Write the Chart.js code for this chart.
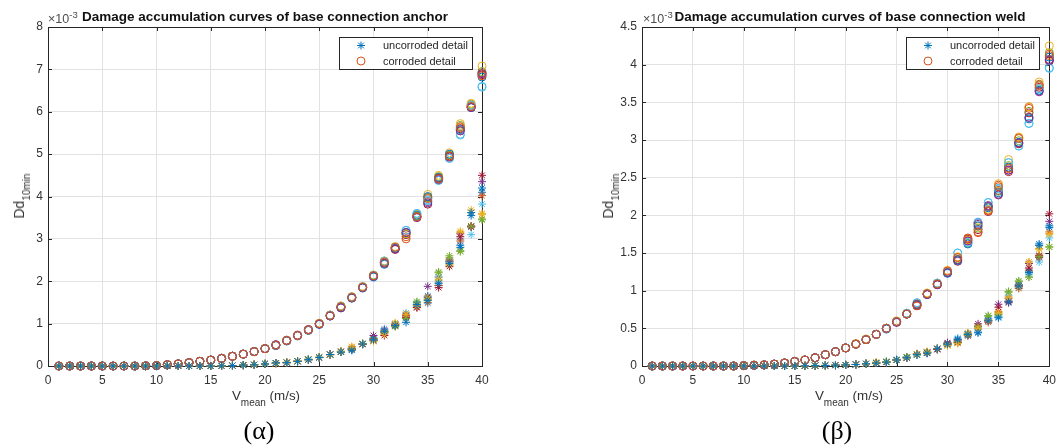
<!DOCTYPE html>
<html>
<head>
<meta charset="utf-8">
<script src="https://cdn.jsdelivr.net/npm/chart.js@4.4.0/dist/chart.umd.min.js"></script>
<style>
html, body { margin: 0; padding: 0; background: #fff; }
body { width: 1063px; height: 447px; position: relative; overflow: hidden; font-family: 'Liberation Sans', Arial, sans-serif; color: #262626; }
canvas { position: absolute; top: 0; }
.abs { position: absolute; white-space: nowrap; line-height: 1; }
.title { font-weight: bold; font-size: 13.5px; top: 10px; transform: translateX(-50%); color: #111; }
.exp { font-size: 12.5px; top: 13px; color: #4d4d4d; }
.exp span { font-size: 9.5px; position: relative; top: -5px; }
.xlab { font-size: 13.4px; top: 389px; transform: translateX(-50%); color: #333; }
.ylab { font-size: 14px; top: 196px; transform: translate(-50%, -50%) rotate(-90deg); color: #333; }
.sub { font-size: 10px; position: relative; top: 6px; }
.cap { font-family: 'Liberation Serif', 'Times New Roman', serif; font-size: 26px; top: 418px; transform: translateX(-50%); color: #000; }
</style>
</head>
<body>
<canvas id="chartAnchor" width="530" height="395" style="left:0px"></canvas>
<canvas id="chartWeld" width="523" height="395" style="left:540px"></canvas>

<div class="abs title" style="left:265px">Damage accumulation curves of base connection anchor</div>
<div class="abs title" style="left:850px">Damage accumulation curves of base connection weld</div>
<div class="abs exp" style="left:48px">×10<span>-3</span></div>
<div class="abs exp" style="left:643px">×10<span>-3</span></div>
<div class="abs xlab" style="left:266px">V<span class="sub">mean</span> (m/s)</div>
<div class="abs xlab" style="left:849px">V<span class="sub">mean</span> (m/s)</div>
<div class="abs ylab" style="left:19px">Dd<span class="sub">10min</span></div>
<div class="abs ylab" style="left:608px">Dd<span class="sub">10min</span></div>
<div class="abs cap" style="left:259px">(α)</div>
<div class="abs cap" style="left:837px">(β)</div>

<script>
// wind speed classes (m/s)
const vMean = [1,2,3,4,5,6,7,8,9,10,11,12,13,14,15,16,17,18,19,20,21,22,23,24,25,26,27,28,29,30,31,32,33,34,35,36,37,38,39,40];

const xTickLabels = ['0','5','10','15','20','25','30','35','40'];
const anchorTickLabels = ['0','1','2','3','4','5','6','7','8'];
const weldTickLabels = ['0','0.5','1','1.5','2','2.5','3','3.5','4','4.5'];

const matlabColors = ['#0072BD','#D95319','#EDB120','#7E2F8E','#77AC30','#4DBEEE','#A2142F'];

// damage values, in units of 1e-3
// anchor - uncorroded
const anchorUncorroded1 = [0,0,0,0,0,0,0,0,0,0,0,0,0,0,0,0.005,0.01,0.02,0.03,0.05,0.07,0.08,0.11,0.15,0.2,0.27,0.33,0.37,0.52,0.62,0.82,0.96,1.03,1.45,1.55,1.95,2.42,2.85,3.62,4.2];
const anchorUncorroded2 = [0,0,0,0,0,0,0,0,0,0,0,0,0,0,0,0.005,0.01,0.02,0.03,0.05,0.06,0.09,0.12,0.15,0.2,0.26,0.34,0.45,0.52,0.58,0.75,1.02,1.22,1.42,1.6,2.05,2.4,3.18,3.68,3.58];
const anchorUncorroded3 = [0,0,0,0,0,0,0,0,0,0,0,0,0,0,0,0.005,0.01,0.02,0.03,0.05,0.07,0.08,0.11,0.16,0.21,0.27,0.33,0.4,0.53,0.63,0.8,0.93,1.12,1.5,1.58,2.2,2.55,2.7,3.3,3.45];
const anchorUncorroded4 = [0,0,0,0,0,0,0,0,0,0,0,0,0,0,0,0.005,0.01,0.02,0.03,0.05,0.07,0.08,0.11,0.15,0.2,0.27,0.34,0.4,0.51,0.64,0.72,0.95,1.15,1.38,1.62,1.85,2.35,3.05,3.3,4.5];
const anchorUncorroded5 = [0,0,0,0,0,0,0,0,0,0,0,0,0,0,0,0.005,0.01,0.02,0.03,0.05,0.06,0.08,0.11,0.15,0.2,0.27,0.33,0.42,0.52,0.61,0.78,0.98,1.2,1.38,1.5,1.9,2.5,2.95,3.3,4.02];
const anchorUncorroded6 = [0,0,0,0,0,0,0,0,0,0,0,0,0,0,0,0.005,0.01,0.02,0.03,0.05,0.07,0.08,0.11,0.15,0.2,0.27,0.33,0.39,0.52,0.72,0.85,0.97,1.18,1.44,1.88,1.9,2.47,3.12,3.28,4.35];
const anchorUncorroded7 = [0,0,0,0,0,0,0,0,0,0,0,0,0,0,0,0.005,0.01,0.02,0.03,0.05,0.07,0.08,0.11,0.15,0.2,0.27,0.34,0.38,0.51,0.67,0.88,0.99,1.25,1.48,1.48,1.98,2.5,3.0,3.1,3.82];
const anchorUncorroded8 = [0,0,0,0,0,0,0,0,0,0,0,0,0,0,0,0.005,0.01,0.02,0.03,0.05,0.07,0.08,0.11,0.15,0.2,0.27,0.33,0.4,0.52,0.6,0.8,0.98,1.2,1.4,1.65,2.1,2.45,2.8,3.55,4.1];
const anchorUncorroded9 = [0,0,0,0,0,0,0,0,0,0,0,0,0,0,0,0.005,0.01,0.02,0.03,0.05,0.06,0.09,0.12,0.15,0.21,0.27,0.35,0.46,0.52,0.6,0.78,1.0,1.22,1.43,1.55,2.02,2.38,3.15,3.62,3.6];
const anchorUncorroded10 = [0,0,0,0,0,0,0,0,0,0,0,0,0,0,0,0.005,0.01,0.02,0.03,0.05,0.07,0.08,0.11,0.16,0.2,0.27,0.34,0.4,0.53,0.65,0.82,0.94,1.14,1.52,1.55,2.22,2.6,2.72,3.28,3.47];
// anchor - corroded
const anchorCorroded1 = [0,0,0,0,0,0,0,0,0.005,0.01,0.03,0.05,0.08,0.11,0.14,0.18,0.23,0.28,0.34,0.41,0.49,0.6,0.72,0.85,1.0,1.19,1.4,1.62,1.86,2.13,2.45,2.8,3.0,3.52,3.95,4.42,4.95,5.62,6.12,6.85];
const anchorCorroded2 = [0,0,0,0,0,0,0,0,0.005,0.01,0.03,0.05,0.08,0.11,0.14,0.18,0.23,0.28,0.34,0.41,0.5,0.6,0.72,0.86,0.99,1.18,1.37,1.61,1.85,2.12,2.42,2.76,3.15,3.5,3.85,4.4,4.93,5.55,6.1,6.9];
const anchorCorroded3 = [0,0,0,0,0,0,0,0,0.005,0.01,0.03,0.05,0.08,0.11,0.14,0.18,0.23,0.28,0.34,0.41,0.49,0.6,0.72,0.85,1.0,1.2,1.41,1.63,1.87,2.14,2.47,2.8,3.2,3.6,3.9,4.38,4.9,5.45,6.15,6.58];
const anchorCorroded4 = [0,0,0,0,0,0,0,0,0.005,0.01,0.03,0.05,0.08,0.11,0.14,0.18,0.23,0.28,0.34,0.41,0.48,0.59,0.71,0.84,0.98,1.18,1.38,1.6,1.84,2.1,2.4,2.78,3.15,3.56,4.0,4.45,5.0,5.58,6.1,6.82];
const anchorCorroded5 = [0,0,0,0,0,0,0,0,0.005,0.01,0.03,0.05,0.08,0.11,0.14,0.18,0.23,0.28,0.34,0.41,0.49,0.6,0.72,0.86,1.01,1.2,1.42,1.64,1.88,2.15,2.48,2.82,3.13,3.58,4.05,4.5,5.03,5.72,6.2,7.08];
const anchorCorroded6 = [0,0,0,0,0,0,0,0,0.005,0.01,0.03,0.05,0.08,0.11,0.14,0.18,0.23,0.28,0.34,0.41,0.49,0.6,0.72,0.85,1.0,1.19,1.39,1.62,1.86,2.12,2.44,2.79,3.12,3.54,3.97,4.47,4.98,5.68,6.18,6.95];
const anchorCorroded7 = [0,0,0,0,0,0,0,0,0.005,0.01,0.03,0.05,0.08,0.11,0.14,0.18,0.23,0.28,0.34,0.41,0.5,0.61,0.73,0.85,1.0,1.2,1.4,1.62,1.86,2.13,2.44,2.75,3.1,3.52,3.82,4.43,4.96,5.6,6.12,6.87];
const anchorCorroded8 = [0,0,0,0,0,0,0,0,0.005,0.01,0.03,0.05,0.08,0.11,0.14,0.18,0.23,0.28,0.34,0.41,0.49,0.6,0.72,0.85,1.0,1.19,1.4,1.62,1.86,2.13,2.45,2.8,3.05,3.53,3.98,4.44,4.96,5.65,6.15,6.9];
const anchorCorroded9 = [0,0,0,0,0,0,0,0,0.005,0.01,0.03,0.05,0.08,0.11,0.14,0.18,0.23,0.28,0.34,0.41,0.5,0.6,0.72,0.86,0.99,1.18,1.38,1.61,1.85,2.12,2.43,2.77,3.15,3.52,3.88,4.42,4.94,5.55,6.1,6.92];
const anchorCorroded10 = [0,0,0,0,0,0,0,0,0.005,0.01,0.03,0.05,0.08,0.11,0.14,0.18,0.23,0.28,0.34,0.41,0.49,0.6,0.72,0.85,1.0,1.2,1.41,1.63,1.87,2.14,2.48,2.8,3.2,3.6,3.92,4.38,4.9,5.47,6.15,6.6];
// weld - uncorroded
const weldUncorroded1 = [0,0,0,0,0,0,0,0,0,0,0,0,0,0,0,0.003,0.005,0.007,0.01,0.015,0.02,0.03,0.04,0.05,0.08,0.11,0.15,0.17,0.23,0.29,0.35,0.42,0.44,0.6,0.64,0.85,1.06,1.24,1.6,1.84];
const weldUncorroded2 = [0,0,0,0,0,0,0,0,0,0,0,0,0,0,0,0.003,0.005,0.007,0.01,0.015,0.02,0.03,0.05,0.05,0.08,0.11,0.16,0.19,0.23,0.27,0.3,0.44,0.5,0.6,0.7,0.9,1.05,1.38,1.55,1.75];
const weldUncorroded3 = [0,0,0,0,0,0,0,0,0,0,0,0,0,0,0,0.003,0.005,0.007,0.01,0.015,0.02,0.03,0.04,0.06,0.08,0.12,0.15,0.18,0.23,0.29,0.32,0.41,0.52,0.66,0.68,0.98,1.12,1.18,1.45,1.58];
const weldUncorroded4 = [0,0,0,0,0,0,0,0,0,0,0,0,0,0,0,0.003,0.005,0.007,0.01,0.015,0.02,0.03,0.04,0.05,0.08,0.11,0.16,0.18,0.22,0.3,0.31,0.42,0.53,0.6,0.78,0.84,1.06,1.3,1.46,2.02];
const weldUncorroded5 = [0,0,0,0,0,0,0,0,0,0,0,0,0,0,0,0.003,0.005,0.007,0.01,0.015,0.02,0.03,0.04,0.05,0.08,0.11,0.16,0.18,0.23,0.28,0.32,0.41,0.5,0.58,0.72,0.9,1.03,1.27,1.47,1.78];
const weldUncorroded6 = [0,0,0,0,0,0,0,0,0,0,0,0,0,0,0,0.003,0.005,0.007,0.01,0.015,0.02,0.03,0.04,0.05,0.08,0.11,0.16,0.17,0.22,0.31,0.34,0.4,0.56,0.6,0.82,0.86,1.07,1.36,1.44,1.92];
const weldUncorroded7 = [0,0,0,0,0,0,0,0,0,0,0,0,0,0,0,0.003,0.005,0.007,0.01,0.015,0.02,0.03,0.04,0.05,0.09,0.11,0.16,0.18,0.23,0.28,0.37,0.43,0.48,0.63,0.66,0.94,1.04,1.22,1.38,1.7];
const weldUncorroded8 = [0,0,0,0,0,0,0,0,0,0,0,0,0,0,0,0.003,0.005,0.007,0.01,0.015,0.02,0.03,0.04,0.05,0.08,0.11,0.15,0.18,0.23,0.29,0.36,0.42,0.45,0.61,0.65,0.86,1.08,1.25,1.62,1.86];
const weldUncorroded9 = [0,0,0,0,0,0,0,0,0,0,0,0,0,0,0,0.003,0.005,0.007,0.01,0.015,0.02,0.03,0.05,0.05,0.08,0.11,0.16,0.19,0.23,0.27,0.31,0.44,0.52,0.61,0.71,0.92,1.06,1.38,1.56,1.76];
const weldUncorroded10 = [0,0,0,0,0,0,0,0,0,0,0,0,0,0,0,0.003,0.005,0.007,0.01,0.015,0.02,0.03,0.04,0.06,0.08,0.12,0.15,0.18,0.23,0.29,0.32,0.41,0.52,0.67,0.69,0.99,1.13,1.18,1.44,1.58];
// weld - corroded
const weldCorroded1 = [0,0,0,0,0,0,0,0,0,0.005,0.01,0.015,0.025,0.04,0.06,0.08,0.11,0.15,0.19,0.24,0.29,0.35,0.42,0.5,0.59,0.69,0.8,0.96,1.09,1.26,1.44,1.7,1.77,2.06,2.38,2.62,3.02,3.42,3.72,4.12];
const weldCorroded2 = [0,0,0,0,0,0,0,0,0,0.005,0.01,0.015,0.025,0.04,0.06,0.08,0.11,0.15,0.19,0.24,0.29,0.35,0.42,0.5,0.58,0.69,0.82,0.95,1.08,1.24,1.41,1.66,1.88,2.12,2.27,2.6,2.96,3.3,3.64,4.06];
const weldCorroded3 = [0,0,0,0,0,0,0,0,0,0.005,0.01,0.015,0.025,0.04,0.06,0.08,0.11,0.15,0.19,0.24,0.29,0.35,0.42,0.5,0.59,0.7,0.84,0.96,1.1,1.25,1.5,1.64,1.9,2.17,2.35,2.7,2.92,3.22,3.68,3.95];
const weldCorroded4 = [0,0,0,0,0,0,0,0,0,0.005,0.01,0.015,0.025,0.04,0.06,0.08,0.11,0.15,0.19,0.24,0.29,0.35,0.42,0.49,0.59,0.69,0.81,0.95,1.09,1.23,1.4,1.62,1.86,2.1,2.3,2.64,2.97,3.28,3.66,4.1];
const weldCorroded5 = [0,0,0,0,0,0,0,0,0,0.005,0.01,0.015,0.025,0.04,0.06,0.08,0.11,0.15,0.19,0.24,0.3,0.36,0.42,0.5,0.6,0.7,0.83,0.97,1.1,1.27,1.45,1.67,1.85,2.08,2.42,2.74,3.04,3.44,3.77,4.25];
const weldCorroded6 = [0,0,0,0,0,0,0,0,0,0.005,0.01,0.015,0.025,0.04,0.06,0.08,0.11,0.15,0.19,0.24,0.29,0.35,0.42,0.5,0.59,0.69,0.82,0.96,1.09,1.25,1.42,1.63,1.83,2.11,2.32,2.66,2.99,3.38,3.73,4.16];
const weldCorroded7 = [0,0,0,0,0,0,0,0,0,0.005,0.01,0.015,0.025,0.04,0.06,0.08,0.11,0.15,0.19,0.24,0.29,0.35,0.42,0.5,0.59,0.69,0.8,0.95,1.08,1.24,1.39,1.68,1.81,2.05,2.33,2.58,2.95,3.36,3.7,4.05];
const weldCorroded8 = [0,0,0,0,0,0,0,0,0,0.005,0.01,0.015,0.025,0.04,0.06,0.08,0.11,0.15,0.19,0.24,0.29,0.35,0.42,0.5,0.59,0.69,0.8,0.96,1.09,1.26,1.44,1.69,1.78,2.07,2.4,2.63,3.03,3.44,3.74,4.14];
const weldCorroded9 = [0,0,0,0,0,0,0,0,0,0.005,0.01,0.015,0.025,0.04,0.06,0.08,0.11,0.15,0.19,0.24,0.29,0.35,0.42,0.5,0.58,0.69,0.82,0.95,1.08,1.24,1.41,1.66,1.9,2.13,2.28,2.6,2.96,3.3,3.65,4.07];
const weldCorroded10 = [0,0,0,0,0,0,0,0,0,0.005,0.01,0.015,0.025,0.04,0.06,0.08,0.11,0.15,0.19,0.24,0.29,0.35,0.42,0.5,0.59,0.7,0.84,0.96,1.1,1.25,1.5,1.64,1.91,2.17,2.36,2.7,2.92,3.22,3.68,3.96];

const anchorUncorroded = [anchorUncorroded1, anchorUncorroded2, anchorUncorroded3, anchorUncorroded4, anchorUncorroded5, anchorUncorroded6, anchorUncorroded7, anchorUncorroded8, anchorUncorroded9, anchorUncorroded10];
const anchorCorroded = [anchorCorroded1, anchorCorroded2, anchorCorroded3, anchorCorroded4, anchorCorroded5, anchorCorroded6, anchorCorroded7, anchorCorroded8, anchorCorroded9, anchorCorroded10];
const weldUncorroded = [weldUncorroded1, weldUncorroded2, weldUncorroded3, weldUncorroded4, weldUncorroded5, weldUncorroded6, weldUncorroded7, weldUncorroded8, weldUncorroded9, weldUncorroded10];
const weldCorroded = [weldCorroded1, weldCorroded2, weldCorroded3, weldCorroded4, weldCorroded5, weldCorroded6, weldCorroded7, weldCorroded8, weldCorroded9, weldCorroded10];

Chart.defaults.font.family = "'Liberation Sans', Arial, sans-serif";
Chart.defaults.color = '#333';

// plotted like matlab: asterisk then circle per case, colour order cycles
function makeDatasets(uncList, corList) {
    const out = [];
    uncList.forEach((unc, i) => {
        const cu = matlabColors[(2 * i) % 7];
        const cc = matlabColors[(2 * i + 1) % 7];
        out.push({
            label: 'uncorroded detail',
            data: vMean.map((v, j) => ({ x: v, y: unc[j] })),
            pointStyle: 'star', pointRadius: 4, pointHoverRadius: 4,
            pointBorderColor: cu, pointBackgroundColor: cu, pointBorderWidth: 1,
            borderColor: cu, showLine: false, clip: false
        });
        out.push({
            label: 'corroded detail',
            data: vMean.map((v, j) => ({ x: v, y: corList[i][j] })),
            pointStyle: 'circle', pointRadius: 4, pointHoverRadius: 4,
            pointBorderColor: cc, pointBackgroundColor: 'rgba(0,0,0,0)', pointBorderWidth: 1,
            borderColor: cc, showLine: false, clip: false
        });
    });
    return out;
}

// box around axes + inward ticks, legend inside plot
const matlabAxes = {
    id: 'matlabAxes',
    beforeDatasetsDraw(chart) {
        const ctx = chart.ctx, a = chart.chartArea;
        ctx.save();
        ctx.strokeStyle = '#262626';
        ctx.lineWidth = 1;
        ctx.beginPath();
        chart.scales.x.ticks.forEach(t => {
            const px = Math.round(chart.scales.x.getPixelForValue(t.value)) + 0.5;
            ctx.moveTo(px, a.bottom); ctx.lineTo(px, a.bottom - 4);
            ctx.moveTo(px, a.top); ctx.lineTo(px, a.top + 4);
        });
        chart.scales.y.ticks.forEach(t => {
            const py = Math.round(chart.scales.y.getPixelForValue(t.value)) + 0.5;
            ctx.moveTo(a.left, py); ctx.lineTo(a.left + 4, py);
            ctx.moveTo(a.right, py); ctx.lineTo(a.right - 4, py);
        });
        ctx.stroke();
        ctx.strokeRect(Math.round(a.left) + 0.5, Math.round(a.top) + 0.5, Math.round(a.right - a.left), Math.round(a.bottom - a.top));
        ctx.restore();
    },
    afterDraw(chart) {
        const ctx = chart.ctx, a = chart.chartArea;
        const items = chart.data.datasets.slice(0, 2);
        ctx.save();
        ctx.font = "11px 'Liberation Sans', Arial, sans-serif";
        const tw = Math.max(...items.map(d => ctx.measureText(d.label).width));
        const w = Math.round(44 + tw + 4), h = 32;
        const x0 = Math.round(a.right - 10 - w), y0 = Math.round(a.top + 10);
        ctx.fillStyle = '#fff';
        ctx.fillRect(x0, y0, w, h);
        ctx.strokeStyle = '#262626';
        ctx.lineWidth = 1;
        ctx.strokeRect(x0 + 0.5, y0 + 0.5, w, h);
        items.forEach((ds, i) => {
            const cy = y0 + 8.5 + i * 15.5;
            ctx.strokeStyle = ds.pointBorderColor;
            ctx.fillStyle = ds.pointBackgroundColor;
            ctx.lineWidth = 1;
            Chart.helpers.drawPoint(ctx, { pointStyle: ds.pointStyle, radius: 4, borderWidth: 1, rotation: 0 }, x0 + 22, cy);
            ctx.fillStyle = '#262626';
            ctx.textBaseline = 'middle';
            ctx.textAlign = 'left';
            ctx.fillText(ds.label, x0 + 44, cy + 0.5);
        });
        ctx.restore();
    }
};

function makeScales(yMax, yStep, yLabels, yAxisWidth) {
    return {
        x: {
            type: 'linear', min: 0, max: 40,
            ticks: { stepSize: 5, padding: 7, maxRotation: 0, color: '#333', font: { size: 12 },
                     callback: (v, i) => xTickLabels[i] },
            grid: { color: '#e2e2e2', drawTicks: false },
            border: { color: '#262626' },
            afterFit(scale) { scale.height = 29; }
        },
        y: {
            type: 'linear', min: 0, max: yMax,
            ticks: { stepSize: yStep, padding: 5, color: '#333', font: { size: 12 },
                     callback: (v, i) => yLabels[i] },
            grid: { color: '#e2e2e2', drawTicks: false },
            border: { color: '#262626' },
            afterFit(scale) { scale.width = yAxisWidth; }
        }
    };
}

const chartAnchor = new Chart(document.getElementById('chartAnchor').getContext('2d'), {
    type: 'scatter',
    data: { datasets: makeDatasets(anchorUncorroded, anchorCorroded) },
    options: {
        responsive: false, animation: false, devicePixelRatio: 1,
        layout: { padding: { left: 0, right: 48, top: 27, bottom: 0 } },
        plugins: { legend: { display: false }, tooltip: { enabled: false } },
        scales: makeScales(8, 1, anchorTickLabels, 48)
    },
    plugins: [matlabAxes]
});

const chartWeld = new Chart(document.getElementById('chartWeld').getContext('2d'), {
    type: 'scatter',
    data: { datasets: makeDatasets(weldUncorroded, weldCorroded) },
    options: {
        responsive: false, animation: false, devicePixelRatio: 1,
        layout: { padding: { left: 0, right: 7, top: 27, bottom: 0 } },
        plugins: { legend: { display: false }, tooltip: { enabled: false } },
        scales: makeScales(4.5, 0.5, weldTickLabels, 102)
    },
    plugins: [matlabAxes]
});
</script>
</body>
</html>
